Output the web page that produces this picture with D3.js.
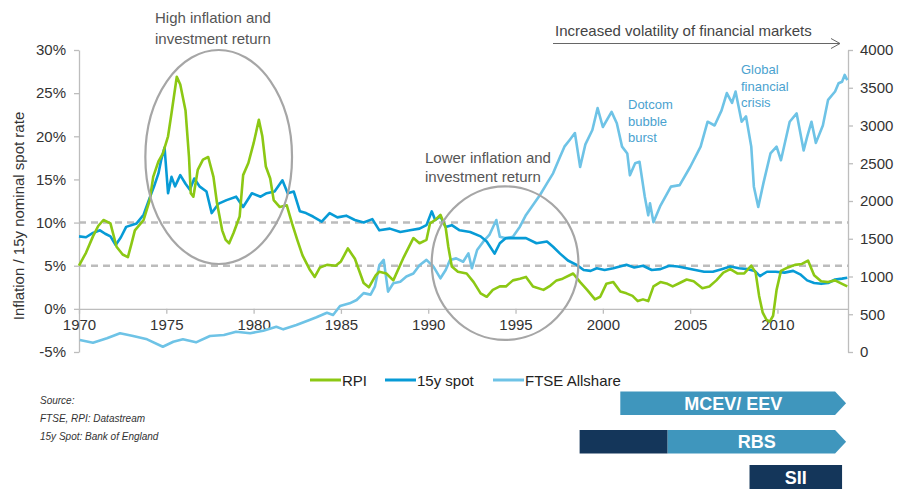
<!DOCTYPE html>
<html><head><meta charset="utf-8">
<script src="https://cdn.jsdelivr.net/npm/d3@7"></script>
<style>body{margin:0;background:#fff} text{font-family:"Liberation Sans",Arial,sans-serif}</style>
</head><body><svg id="c" width="897" height="491"></svg>
<script>
// ---------- data ----------
const xTicks = [1970,1975,1980,1985,1990,1995,2000,2005,2010];
const leftTicks = [-5,0,5,10,15,20,25,30];
const rightTicks = [0,500,1000,1500,2000,2500,3000,3500,4000];
const refLevels = [5,10];
const seriesNames = ["RPI","15y spot","FTSE Allshare"];

const rpi = [[1970.0,5.0],[1970.4,6.5],[1970.8,8.4],[1971.1,9.6],[1971.4,10.3],[1971.8,9.9],[1972.15,7.2],[1972.5,6.3],[1972.8,6.0],[1973.0,7.5],[1973.2,9.1],[1973.7,10.3],[1974.05,12.6],[1974.25,15.3],[1974.55,17.1],[1974.8,18.0],[1975.1,20.0],[1975.3,22.7],[1975.6,26.9],[1975.8,26.0],[1976.1,23.0],[1976.3,17.6],[1976.4,13.4],[1976.55,13.0],[1976.8,16.1],[1977.1,17.3],[1977.4,17.6],[1977.7,15.3],[1977.9,12.3],[1978.2,9.1],[1978.4,8.0],[1978.6,7.6],[1978.85,8.8],[1979.2,10.7],[1979.4,15.5],[1979.7,16.9],[1980.0,19.2],[1980.3,21.9],[1980.5,20.0],[1980.7,16.5],[1980.95,15.1],[1981.15,12.6],[1981.5,11.8],[1981.9,12.0],[1982.2,9.9],[1982.5,8.0],[1982.8,6.2],[1983.2,4.6],[1983.5,3.7],[1983.8,4.8],[1984.2,5.1],[1984.7,5.0],[1985.0,5.5],[1985.4,7.0],[1985.8,5.8],[1986.3,3.0],[1986.6,2.5],[1987.0,3.9],[1987.2,4.3],[1987.6,4.1],[1988.0,3.3],[1988.6,6.0],[1989.15,8.2],[1989.5,7.6],[1989.9,8.0],[1990.1,9.9],[1990.4,10.3],[1990.7,10.9],[1991.0,9.4],[1991.15,7.2],[1991.35,4.9],[1991.7,4.3],[1992.2,4.1],[1992.6,3.1],[1993.0,1.8],[1993.35,1.4],[1993.7,2.2],[1994.1,2.6],[1994.45,2.6],[1994.85,3.3],[1995.25,3.5],[1995.6,3.7],[1996.0,2.6],[1996.6,2.2],[1997.0,2.7],[1997.35,3.3],[1997.7,3.5],[1998.3,4.1],[1998.7,3.1],[1999.1,2.2],[1999.55,1.1],[1999.85,1.4],[2000.2,2.9],[2000.6,3.1],[2001.0,2.0],[2001.35,1.8],[2001.7,1.5],[2002.0,0.9],[2002.3,1.1],[2002.6,0.9],[2002.9,2.6],[2003.3,3.1],[2003.7,2.9],[2004.0,2.6],[2004.4,3.0],[2004.8,3.4],[2005.2,3.2],[2005.7,2.4],[2006.1,2.6],[2006.5,3.3],[2006.9,4.2],[2007.3,4.6],[2007.7,4.1],[2008.1,4.1],[2008.5,5.0],[2008.75,4.2],[2008.95,1.5],[2009.15,-0.4],[2009.35,-1.2],[2009.55,-1.5],[2009.75,-0.8],[2009.95,2.2],[2010.2,4.4],[2010.6,4.8],[2011.0,5.1],[2011.4,5.2],[2011.75,5.6],[2012.1,3.9],[2012.5,3.2],[2012.9,3.1],[2013.3,3.3],[2013.7,2.9],[2014.0,2.6]];

const spot = [[1970.0,8.4],[1970.4,8.3],[1970.8,8.8],[1971.2,9.1],[1971.5,8.7],[1971.8,8.4],[1972.1,7.4],[1972.4,8.3],[1972.7,9.5],[1973.3,9.9],[1973.7,10.9],[1974.0,12.6],[1974.3,14.2],[1974.55,15.7],[1974.7,17.2],[1974.9,18.7],[1975.1,13.4],[1975.3,15.3],[1975.5,14.2],[1975.8,15.5],[1976.1,14.5],[1976.35,13.8],[1976.6,15.1],[1976.9,14.2],[1977.3,13.6],[1977.6,11.1],[1978.0,12.2],[1978.45,12.6],[1979.0,13.0],[1979.4,11.8],[1979.9,13.4],[1980.4,13.0],[1980.75,13.4],[1981.2,13.6],[1981.65,14.9],[1981.95,13.4],[1982.3,13.6],[1982.65,11.3],[1983.0,11.1],[1983.4,10.7],[1983.9,10.1],[1984.35,11.1],[1984.8,10.6],[1985.3,10.8],[1985.8,10.3],[1986.3,10.0],[1986.8,10.4],[1987.2,9.1],[1987.8,9.3],[1988.4,8.9],[1988.95,9.1],[1989.5,9.3],[1989.9,9.7],[1990.2,11.3],[1990.4,10.3],[1990.7,10.7],[1991.0,9.5],[1991.35,9.7],[1991.8,9.1],[1992.4,8.9],[1993.0,8.4],[1993.35,7.8],[1993.8,6.4],[1994.1,7.6],[1994.45,8.2],[1995.05,8.2],[1995.6,8.2],[1996.2,7.6],[1996.8,7.8],[1997.15,7.2],[1997.55,6.4],[1998.0,5.6],[1998.5,5.1],[1998.9,4.5],[1999.3,4.4],[1999.65,4.7],[2000.1,4.5],[2000.6,4.7],[2001.35,5.1],[2001.8,4.8],[2002.3,5.0],[2002.8,4.5],[2003.3,4.6],[2003.8,5.0],[2004.3,4.9],[2004.8,4.7],[2005.3,4.5],[2005.8,4.3],[2006.3,4.3],[2006.8,4.6],[2007.3,4.9],[2007.8,4.7],[2008.3,4.6],[2008.7,4.4],[2009.0,3.8],[2009.4,4.3],[2009.9,4.3],[2010.4,4.2],[2010.9,4.4],[2011.3,4.0],[2011.7,3.3],[2012.1,3.0],[2012.5,2.9],[2012.9,3.0],[2013.3,3.4],[2013.7,3.5],[2014.0,3.6]];

const ftse = [[1970.05,159],[1970.8,123],[1971.6,181],[1972.35,248],[1973.1,212],[1973.9,168],[1974.8,70],[1975.4,136],[1975.95,168],[1976.7,128],[1977.5,212],[1978.3,225],[1979.0,269],[1979.8,248],[1980.55,282],[1981.3,335],[1981.7,300],[1982.45,358],[1983.2,424],[1983.6,460],[1984.2,520],[1984.55,490],[1984.95,609],[1985.5,645],[1985.9,689],[1986.3,780],[1986.7,760],[1986.95,870],[1987.2,1150],[1987.45,1220],[1987.7,800],[1988.0,910],[1988.4,930],[1988.75,1000],[1989.15,1040],[1989.5,1150],[1989.9,1220],[1990.3,1130],[1990.7,976],[1991.0,1086],[1991.25,1220],[1991.6,1240],[1992.0,1196],[1992.3,1307],[1992.5,1109],[1992.8,1351],[1993.15,1461],[1993.5,1550],[1993.9,1748],[1994.1,1527],[1994.45,1506],[1994.85,1527],[1995.25,1660],[1995.6,1815],[1996.0,1947],[1996.4,2080],[1996.8,2234],[1997.15,2366],[1997.55,2586],[1997.8,2720],[1998.1,2808],[1998.4,2900],[1998.7,2450],[1999.0,2750],[1999.4,2940],[1999.7,3230],[2000.0,2980],[2000.5,3180],[2000.8,3030],[2001.1,2720],[2001.4,2630],[2001.55,2340],[2001.85,2500],[2002.1,2520],[2002.4,2060],[2002.6,1810],[2002.7,1970],[2002.9,1720],[2003.3,1940],[2003.9,2190],[2004.4,2210],[2005.0,2450],[2005.6,2720],[2006.0,3050],[2006.4,3000],[2006.8,3200],[2007.1,3430],[2007.4,3300],[2007.6,3450],[2007.95,3050],[2008.2,3120],[2008.5,2720],[2008.65,2190],[2008.9,1920],[2009.2,2240],[2009.6,2630],[2009.95,2720],[2010.2,2540],[2010.7,3050],[2011.1,3160],[2011.5,2670],[2011.7,2850],[2011.95,3050],[2012.2,2770],[2012.6,3000],[2012.9,3340],[2013.3,3450],[2013.5,3560],[2013.7,3580],[2013.85,3670],[2014.0,3600]];

// framework bars: [label, startYear, endYear, arrow]
const barMCEV = {label:"MCEV/ EEV", start:2001.0, end:2013.3};
const barRBS = {label:"RBS", darkStart:1998.67, darkEnd:2003.7, end:2013.3};
const barSII = {label:"SII", start:2008.4, end:2013.7};

// ---------- layout ----------
const svg = d3.select("#c");
const x = d3.scaleLinear().domain([1970, 2014.04]).range([79, 848]);
const yL = d3.scaleLinear().domain([-5, 30]).range([352, 50]);
const yR = d3.scaleLinear().domain([0, 4000]).range([352, 50]);

const C = {rpi:"#8cc814", spot:"#079bd6", ftse:"#6ec3e6", grid:"#bdbdbd", txt:"#333", ann:"#555", ell:"#a6a6a6", barL:"#3f96bd", barD:"#14365a", annBlue:"#4aa2cf"};

// reference dashed lines
svg.selectAll("line.ref").data(refLevels).join("line")
  .attr("x1", x.range()[0]).attr("x2", x.range()[1])
  .attr("y1", d=>yL(d)).attr("y2", d=>yL(d))
  .attr("stroke", "#bcbcbc").attr("stroke-width", 2.5).attr("stroke-dasharray", "7,5");

// axes
function styleAxis(g){
  g.selectAll("path.domain").attr("stroke", C.grid).attr("stroke-width", 1.3);
  g.selectAll(".tick line").attr("stroke", C.grid).attr("stroke-width", 1.3);
  g.selectAll(".tick text").attr("fill", C.txt).style("font-size","15px").style("font-family",'"Liberation Sans",Arial,sans-serif');
}
svg.append("g").attr("transform",`translate(${x.range()[0]},0)`)
  .call(d3.axisLeft(yL).tickValues(leftTicks).tickFormat(d=>d+"%").tickSize(5).tickSizeOuter(0).tickPadding(8))
  .call(styleAxis);
svg.append("g").attr("transform",`translate(${x.range()[1]},0)`)
  .call(d3.axisRight(yR).tickValues(rightTicks).tickFormat(d=>d).tickSize(5).tickSizeOuter(0).tickPadding(7))
  .call(styleAxis);
svg.append("g").attr("transform",`translate(0,${yL(0)})`)
  .call(d3.axisBottom(x).tickValues(xTicks).tickFormat(d=>d).tickSize(5).tickSizeOuter(0).tickPadding(6))
  .call(styleAxis);

// y-axis title
svg.append("text").attr("transform",`translate(18,${(yL(30)+yL(-5))/2+15}) rotate(-90)`)
  .attr("text-anchor","middle").attr("dominant-baseline","central")
  .attr("fill",C.txt).style("font-size","15px").text("Inflation / 15y nominal spot rate");

// series
const lineL = d3.line().x(d=>x(d[0])).y(d=>yL(d[1])).curve(d3.curveLinear);
const lineR = d3.line().x(d=>x(d[0])).y(d=>yR(d[1])).curve(d3.curveLinear);
svg.append("path").datum(ftse).attr("d", lineR).attr("fill","none").attr("stroke",C.ftse).attr("stroke-width",2.6).attr("stroke-linejoin","round");
svg.append("path").datum(spot).attr("d", lineL).attr("fill","none").attr("stroke",C.spot).attr("stroke-width",2.6).attr("stroke-linejoin","round");
svg.append("path").datum(rpi).attr("d", lineL).attr("fill","none").attr("stroke",C.rpi).attr("stroke-width",2.6).attr("stroke-linejoin","round");

// annotation ellipses (in data units)
const ellipses = [{cx:1978.0, cy:17.6, rxYears:4.2, ryPct:12.4},{cx:1994.4, cy:5.3, rxYears:4.2, ryPct:8.9}];
svg.selectAll("ellipse.ann").data(ellipses).join("ellipse")
  .attr("cx", d=>x(d.cx)).attr("cy", d=>yL(d.cy))
  .attr("rx", d=>x(1970+d.rxYears)-x(1970)).attr("ry", d=>yL(0)-yL(d.ryPct))
  .attr("fill","none").attr("stroke",C.ell).attr("stroke-width",2.2);

// annotation texts
function multi(xp, yp, lines, lh, size, color){
  const t = svg.append("text").attr("x",xp).attr("y",yp).attr("fill",color).style("font-size",size+"px");
  lines.forEach((l,i)=>t.append("tspan").attr("x",xp).attr("dy", i?lh:0).text(l));
}
multi(155, 23, ["High inflation and","investment return"], 21, 15, C.ann);
multi(425, 163, ["Lower inflation and","investment return"], 19, 15, C.ann);
multi(628, 109, ["Dotcom","bubble","burst"], 16.5, 13, C.annBlue);
multi(741, 74, ["Global","financial","crisis"], 16.5, 13, C.annBlue);

// volatility arrow
svg.append("text").attr("x",555).attr("y",36).attr("fill","#444").style("font-size","15px").text("Increased volatility of financial markets");
svg.append("line").attr("x1",553).attr("x2",840).attr("y1",43.5).attr("y2",43.5).attr("stroke","#666").attr("stroke-width",1);
svg.append("path").attr("d","M831,38.5 L840,43.5 L831,48.5").attr("fill","none").attr("stroke","#666").attr("stroke-width",1);

// legend
const legendItems = [{n:seriesNames[0],c:C.rpi,x:310},{n:seriesNames[1],c:C.spot,x:385},{n:seriesNames[2],c:C.ftse,x:493}];
const lg = svg.selectAll("g.lg").data(legendItems).join("g").attr("transform",d=>`translate(${d.x},380)`);
lg.append("line").attr("x1",0).attr("x2",31).attr("stroke",d=>d.c).attr("stroke-width",3);
lg.append("text").attr("x",32).attr("dominant-baseline","central").attr("fill","#222").style("font-size","15px").text(d=>d.n);

// source
const src = svg.append("text").attr("fill","#333").style("font-size","10px").style("font-style","italic");
["Source:","FTSE, RPI: Datastream","15y Spot: Bank of England"].forEach((s,i)=>src.append("tspan").attr("x",40).attr("y",403.5+i*18).text(s));

// framework bars
const tip = 11;
function arrowPath(x0,x1,y0,h){ return `M${x0},${y0} L${x1},${y0} L${x1+tip},${y0+h/2} L${x1},${y0+h} L${x0},${y0+h} Z`; }
svg.append("path").attr("d", arrowPath(x(barMCEV.start), x(barMCEV.end), 391.5, 23.5)).attr("fill",C.barL);
svg.append("text").attr("x",(x(barMCEV.start)+x(barMCEV.end)+tip)/2).attr("y",403.5).attr("text-anchor","middle").attr("dominant-baseline","central")
  .attr("fill","#fff").style("font-size","18px").style("font-weight","bold").text(barMCEV.label);
svg.append("path").attr("d", arrowPath(x(barRBS.darkEnd), x(barRBS.end), 430, 23.5)).attr("fill",C.barL);
svg.append("rect").attr("x",x(barRBS.darkStart)).attr("y",430).attr("width",x(barRBS.darkEnd)-x(barRBS.darkStart)).attr("height",23.5).attr("fill",C.barD);
svg.append("text").attr("x",(x(barRBS.darkEnd)+x(barRBS.end)+tip)/2).attr("y",442).attr("text-anchor","middle").attr("dominant-baseline","central")
  .attr("fill","#fff").style("font-size","18px").style("font-weight","bold").text(barRBS.label);
svg.append("rect").attr("x",x(barSII.start)).attr("y",465).attr("width",x(barSII.end)-x(barSII.start)).attr("height",24).attr("fill",C.barD);
svg.append("text").attr("x",(x(barSII.start)+x(barSII.end))/2).attr("y",477.5).attr("text-anchor","middle").attr("dominant-baseline","central")
  .attr("fill","#fff").style("font-size","18px").style("font-weight","bold").text(barSII.label);
</script></body></html>
